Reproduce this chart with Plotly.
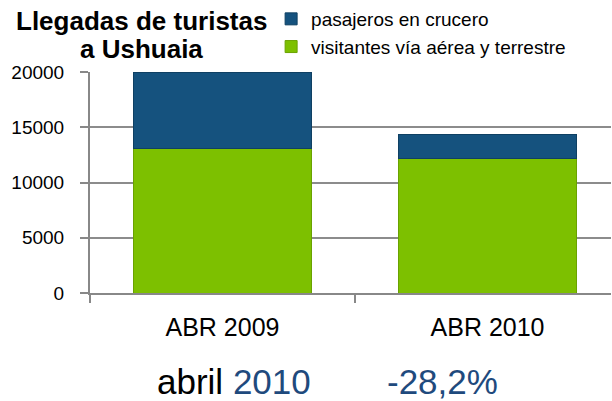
import plotly.graph_objects as go

categories = ["ABR 2009", "ABR 2010"]
visitantes = [13120, 12130]
crucero = [6830, 2190]
series_names = ["visitantes vía aérea y terrestre", "pasajeros en crucero"]
y_ticks = [0, 5000, 10000, 15000, 20000]
y_ticktext = ["0", "5000", "10000", "15000", "20000"]
title_lines = ["Llegadas de turistas", "a Ushuaia"]
month_label = "abril"
year_label = "2010"
change_label = "-28,2%"

blue = "#15527e"
green = "#7dc000"
text_blue = "#1f4a7d"
FONT = "Liberation Sans, Arial, sans-serif"

L, R, T, B = 90, 1, 72, 108
W, H = 612, 401
PW, PH = W - L - R, H - T - B


def px_x(px):
    return (px - L) / PW


def px_y(py):
    return (H - B - py) / PH


fig = go.Figure()
fig.add_trace(go.Bar(x=categories, y=visitantes, name=series_names[0], legendgroup="a",
                     legendrank=2,
                     marker=dict(color=green, line=dict(color="#6aa200", width=1))))
fig.add_trace(go.Bar(x=categories, y=crucero, name=series_names[1], legendgroup="b",
                     legendrank=1,
                     marker=dict(color=blue, line=dict(color="#0f4063", width=1))))

fig.update_layout(
    width=W, height=H,
    barmode="stack", bargap=0.33,
    paper_bgcolor="white", plot_bgcolor="white",
    margin=dict(l=L, r=R, t=T, b=B, autoexpand=False),
    font=dict(family=FONT, color="black"),
    legend=dict(xref="container", yref="container", x=0.443, y=1.0,
                xanchor="left", yanchor="top",
                traceorder="grouped", tracegroupgap=0,
                font=dict(size=19, color="black"),
                bgcolor="rgba(0,0,0,0)", itemwidth=30),
    showlegend=True,
    xaxis=dict(range=[-0.5, 1.466], showline=True, linecolor="#888888", linewidth=2,
               automargin=False,
               ticks="outside", tickcolor="#888888", ticklen=8, tickwidth=2,
               tickson="boundaries", ticklabelstandoff=11,
               tickfont=dict(size=25, color="black")),
    yaxis=dict(range=[0, 20000], tickvals=y_ticks, ticktext=y_ticktext, automargin=False,
               showgrid=True, gridcolor="#8c8c8c", gridwidth=2,
               showline=True, linecolor="#888888", linewidth=2,
               ticks="outside", tickcolor="#888888", ticklen=8, tickwidth=2,
               ticklabelstandoff=12,
               zeroline=False, tickfont=dict(size=19, color="black")),
)

fig.add_annotation(xref="paper", yref="paper", x=px_x(141), y=px_y(21),
                   xanchor="center", yanchor="middle", showarrow=False,
                   text=f"<b>{title_lines[0]}</b>", font=dict(size=26, color="black"))
fig.add_annotation(xref="paper", yref="paper", x=px_x(141), y=px_y(49),
                   xanchor="center", yanchor="middle", showarrow=False,
                   text=f"<b>{title_lines[1]}</b>", font=dict(size=26, color="black"))

fig.add_annotation(xref="paper", yref="paper", x=px_x(155), y=px_y(381),
                   xanchor="left", yanchor="middle", showarrow=False,
                   text=f"{month_label} <span style='color:{text_blue}'>{year_label}</span>",
                   font=dict(size=35, color="black"))
fig.add_annotation(xref="paper", yref="paper", x=px_x(385), y=px_y(381),
                   xanchor="left", yanchor="middle", showarrow=False, text=change_label,
                   font=dict(size=35, color=text_blue))

fig.write_html("out.html", config={"displayModeBar": False},
               post_script="document.body.style.margin='0px';")
